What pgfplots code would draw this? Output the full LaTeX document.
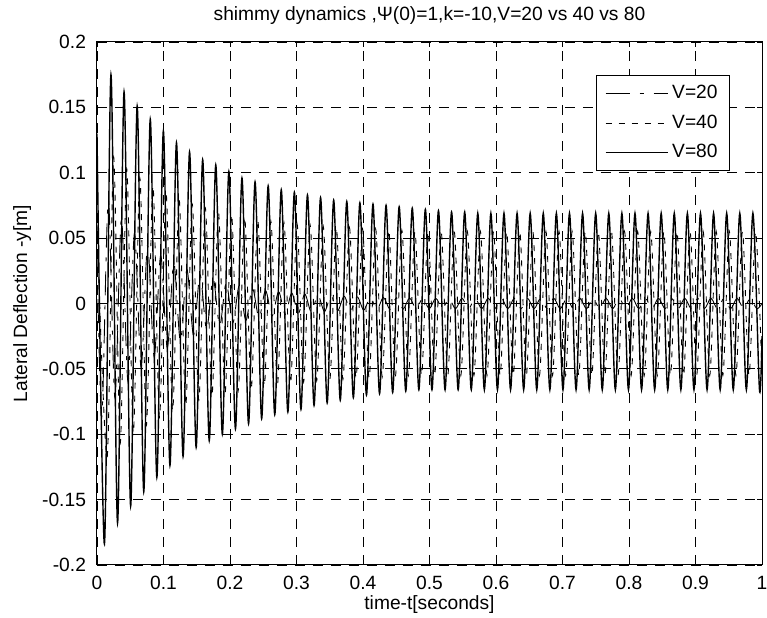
\documentclass[border=0pt]{standalone}
\usepackage{fontspec}
\setmainfont{Liberation Sans}
\usepackage{pgfplots}
\pgfplotsset{compat=1.18}
\usetikzlibrary{calc}

\tikzset{
  v20/.style={black,line width=0.45pt,dash pattern=on 12pt off 5pt on 2pt off 5pt},
  v40/.style={black,line width=0.45pt,dash pattern=on 3pt off 3.5pt},
  v80/.style={black,line width=0.7pt},
}

\begin{document}
\begin{tikzpicture}
\begin{axis}[
  scale only axis,width=332.5pt,height=261.5pt,
  xmin=0,xmax=1,ymin=-0.2,ymax=0.2,
  xtick={0,0.1,0.2,0.3,0.4,0.5,0.6,0.7,0.8,0.9,1},
  xticklabels={0,0.1,0.2,0.3,0.4,0.5,0.6,0.7,0.8,0.9,1},
  ytick={-0.2,-0.15,-0.1,-0.05,0,0.05,0.1,0.15,0.2},
  yticklabels={-0.2,-0.15,-0.1,-0.05,0,0.05,0.1,0.15,0.2},
  tick align=inside,major tick length=2.5pt,
  tick style={black,line width=0.4pt},
  axis line style={black,line width=0.5pt},
  grid=major,
  major grid style={black,line width=0.4pt,dash pattern=on 5pt off 4pt},
  every tick label/.append style={font=\fontsize{9.6}{11}\selectfont},
  xticklabel style={yshift=-2pt},
  yticklabel style={xshift=-2pt},
  label style={font=\fontsize{9.6}{11}\selectfont},
  every axis title shift=0pt,
  title style={font=\fontsize{9.6}{11}\selectfont,at={(axis description cs:0.5,1)},anchor=base,yshift=10.5pt},
  xlabel style={at={(axis description cs:0.5,0)},anchor=base,yshift=-22.5pt},
  ylabel style={at={(axis description cs:-0.105,0.5)},anchor=base},
  title={shimmy dynamics ,Ψ(0)=1,k=-10,V=20 vs 40 vs 80},
  xlabel={time-t[seconds]},
  ylabel={Lateral Deflection -y[m]},
  legend style={at={(0.952,0.937)},anchor=north east,draw=black,line width=0.5pt,fill=white,
    font=\fontsize{9.6}{11}\selectfont,inner xsep=4pt,inner ysep=3pt,row sep=2.5pt,
    nodes={inner sep=2pt}},
  legend cell align=left,
  legend image code/.code={\draw[#1] (0pt,0pt) -- (31pt,0pt);},
]
% V=20
\addplot[v20,smooth] coordinates {
(0,0.040)
(0.0072,-0.087)(0.0170,0.079)
(0.0269,-0.072)(0.0367,0.065)
(0.0466,-0.060)(0.0564,0.054)
(0.0663,-0.049)(0.0761,0.045)
(0.0860,-0.041)(0.0958,0.037)
(0.1057,-0.034)(0.1155,0.031)
(0.1254,-0.029)(0.1352,0.026)
(0.1451,-0.024)(0.1549,0.022)
(0.1648,-0.020)(0.1746,0.019)
(0.1845,-0.017)(0.1943,0.016)
(0.2042,-0.015)(0.2140,0.014)
(0.2239,-0.013)(0.2337,0.012)
(0.2436,-0.011)(0.2534,0.010)
(0.2633,-0.0095)(0.2731,0.009)
(0.2830,-0.0084)(0.2928,0.008)
(0.3027,-0.0075)(0.3125,0.0072)
(0.3224,-0.0068)(0.3322,0.0065)
(0.3421,-0.0062)(0.3519,0.0060)
(0.3618,-0.0057)(0.3716,0.0055)
(0.3815,-0.0053)(0.3913,0.0051)
(0.4012,-0.0050)(0.4110,0.0048)
(0.4209,-0.0047)(0.4307,0.0046)
(0.4406,-0.0045)(0.4504,0.0044)
(0.4603,-0.0043)(0.4701,0.0042)
(0.4800,-0.0041)(0.4898,0.0040)
(0.4997,-0.0040)(0.5095,0.0040)
(0.5194,-0.0040)(0.5292,0.0040)
(0.5391,-0.0040)(0.5489,0.0040)
(0.5588,-0.0040)(0.5686,0.0040)
(0.5785,-0.0040)(0.5883,0.0040)
(0.5982,-0.0040)(0.6080,0.0040)
(0.6179,-0.0040)(0.6277,0.0040)
(0.6376,-0.0040)(0.6474,0.0040)
(0.6573,-0.0040)(0.6671,0.0040)
(0.6770,-0.0040)(0.6868,0.0040)
(0.6967,-0.0040)(0.7065,0.0040)
(0.7164,-0.0040)(0.7262,0.0040)
(0.7361,-0.0040)(0.7459,0.0040)
(0.7558,-0.0040)(0.7656,0.0040)
(0.7755,-0.0040)(0.7853,0.0040)
(0.7952,-0.0040)(0.8050,0.0040)
(0.8149,-0.0040)(0.8247,0.0040)
(0.8346,-0.0040)(0.8444,0.0040)
(0.8543,-0.0040)(0.8641,0.0040)
(0.8740,-0.0040)(0.8838,0.0040)
(0.8937,-0.0040)(0.9035,0.0040)
(0.9134,-0.0040)(0.9232,0.0040)
(0.9331,-0.0040)(0.9429,0.0040)
(0.9528,-0.0040)(0.9626,0.0040)
(0.9725,-0.0040)(0.9823,0.0040)
(0.9922,-0.0040)(1.0000,0.0000)
};
% V=40
\addplot[v40,smooth] coordinates {
(0,0.060)
(0.0152,-0.118)(0.0250,0.112)
(0.0349,-0.107)(0.0447,0.103)
(0.0546,-0.099)(0.0644,0.096)
(0.0743,-0.093)(0.0841,0.090)
(0.0940,-0.087)(0.1038,0.085)
(0.1137,-0.082)(0.1235,0.080)
(0.1334,-0.078)(0.1432,0.076)
(0.1531,-0.074)(0.1629,0.073)
(0.1728,-0.071)(0.1826,0.070)
(0.1925,-0.069)(0.2023,0.068)
(0.2122,-0.067)(0.2220,0.066)
(0.2319,-0.065)(0.2417,0.064)
(0.2516,-0.063)(0.2614,0.063)
(0.2713,-0.062)(0.2811,0.062)
(0.2910,-0.061)(0.3008,0.061)
(0.3107,-0.060)(0.3205,0.060)
(0.3304,-0.059)(0.3402,0.059)
(0.3501,-0.058)(0.3599,0.058)
(0.3698,-0.058)(0.3796,0.058)
(0.3895,-0.057)(0.3993,0.057)
(0.4092,-0.057)(0.4190,0.057)
(0.4289,-0.056)(0.4387,0.056)
(0.4486,-0.056)(0.4584,0.056)
(0.4683,-0.055)(0.4781,0.055)
(0.4880,-0.055)(0.4978,0.055)
(0.5077,-0.055)(0.5175,0.055)
(0.5274,-0.055)(0.5372,0.055)
(0.5471,-0.055)(0.5569,0.055)
(0.5668,-0.055)(0.5766,0.055)
(0.5865,-0.055)(0.5963,0.055)
(0.6062,-0.055)(0.6160,0.055)
(0.6259,-0.055)(0.6357,0.055)
(0.6456,-0.055)(0.6554,0.055)
(0.6653,-0.055)(0.6751,0.055)
(0.6850,-0.055)(0.6948,0.055)
(0.7047,-0.055)(0.7145,0.055)
(0.7244,-0.055)(0.7342,0.055)
(0.7441,-0.055)(0.7539,0.055)
(0.7638,-0.055)(0.7736,0.055)
(0.7835,-0.055)(0.7933,0.055)
(0.8032,-0.055)(0.8130,0.055)
(0.8229,-0.055)(0.8327,0.055)
(0.8426,-0.055)(0.8524,0.055)
(0.8623,-0.055)(0.8721,0.055)
(0.8820,-0.055)(0.8918,0.055)
(0.9017,-0.055)(0.9115,0.055)
(0.9214,-0.055)(0.9312,0.055)
(0.9411,-0.055)(0.9509,0.055)
(0.9608,-0.055)(0.9706,0.055)
(0.9805,-0.055)(0.9903,0.055)
(1.0000,-0.054)
};
% V=80
\addplot[v80,smooth] coordinates {
(0,0.130)
(0.0112,-0.184)(0.0210,0.175)
(0.0309,-0.168)(0.0407,0.162)
(0.0506,-0.155)(0.0604,0.151)
(0.0703,-0.144)(0.0801,0.141)
(0.0900,-0.133)(0.0998,0.132)
(0.1097,-0.124)(0.1195,0.123)
(0.1294,-0.117)(0.1392,0.116)
(0.1491,-0.110)(0.1589,0.110)
(0.1688,-0.105)(0.1786,0.106)
(0.1885,-0.100)(0.1983,0.101)
(0.2082,-0.096)(0.2180,0.096)
(0.2279,-0.092)(0.2377,0.093)
(0.2476,-0.088)(0.2574,0.090)
(0.2673,-0.085)(0.2771,0.087)
(0.2870,-0.083)(0.2968,0.085)
(0.3067,-0.081)(0.3165,0.083)
(0.3264,-0.078)(0.3362,0.081)
(0.3461,-0.076)(0.3559,0.079)
(0.3658,-0.074)(0.3756,0.078)
(0.3855,-0.072)(0.3953,0.077)
(0.4052,-0.070)(0.4150,0.076)
(0.4249,-0.069)(0.4347,0.075)
(0.4446,-0.068)(0.4544,0.074)
(0.4643,-0.067)(0.4741,0.073)
(0.4840,-0.066)(0.4938,0.072)
(0.5037,-0.066)(0.5135,0.071)
(0.5234,-0.066)(0.5332,0.070)
(0.5431,-0.066)(0.5529,0.070)
(0.5628,-0.066)(0.5726,0.069)
(0.5825,-0.066)(0.5923,0.069)
(0.6022,-0.066)(0.6120,0.069)
(0.6219,-0.066)(0.6317,0.069)
(0.6416,-0.066)(0.6514,0.069)
(0.6613,-0.066)(0.6711,0.069)
(0.6810,-0.066)(0.6908,0.069)
(0.7007,-0.066)(0.7105,0.069)
(0.7204,-0.066)(0.7302,0.069)
(0.7401,-0.066)(0.7499,0.069)
(0.7598,-0.066)(0.7696,0.069)
(0.7795,-0.066)(0.7893,0.069)
(0.7992,-0.066)(0.8090,0.069)
(0.8189,-0.066)(0.8287,0.069)
(0.8386,-0.066)(0.8484,0.069)
(0.8583,-0.066)(0.8681,0.069)
(0.8780,-0.066)(0.8878,0.069)
(0.8977,-0.066)(0.9075,0.069)
(0.9174,-0.066)(0.9272,0.069)
(0.9371,-0.066)(0.9469,0.069)
(0.9568,-0.066)(0.9666,0.069)
(0.9765,-0.066)(0.9863,0.069)
(0.9962,-0.066)(1.0000,-0.025)
};
\legend{V=20,V=40,V=80}
\end{axis}
\pgfresetboundingbox
\path ($(current axis.south west)+(-48.5pt,-26.5pt)$) rectangle ($(current axis.north east)+(2.5pt,21pt)$);
\end{tikzpicture}
\end{document}
